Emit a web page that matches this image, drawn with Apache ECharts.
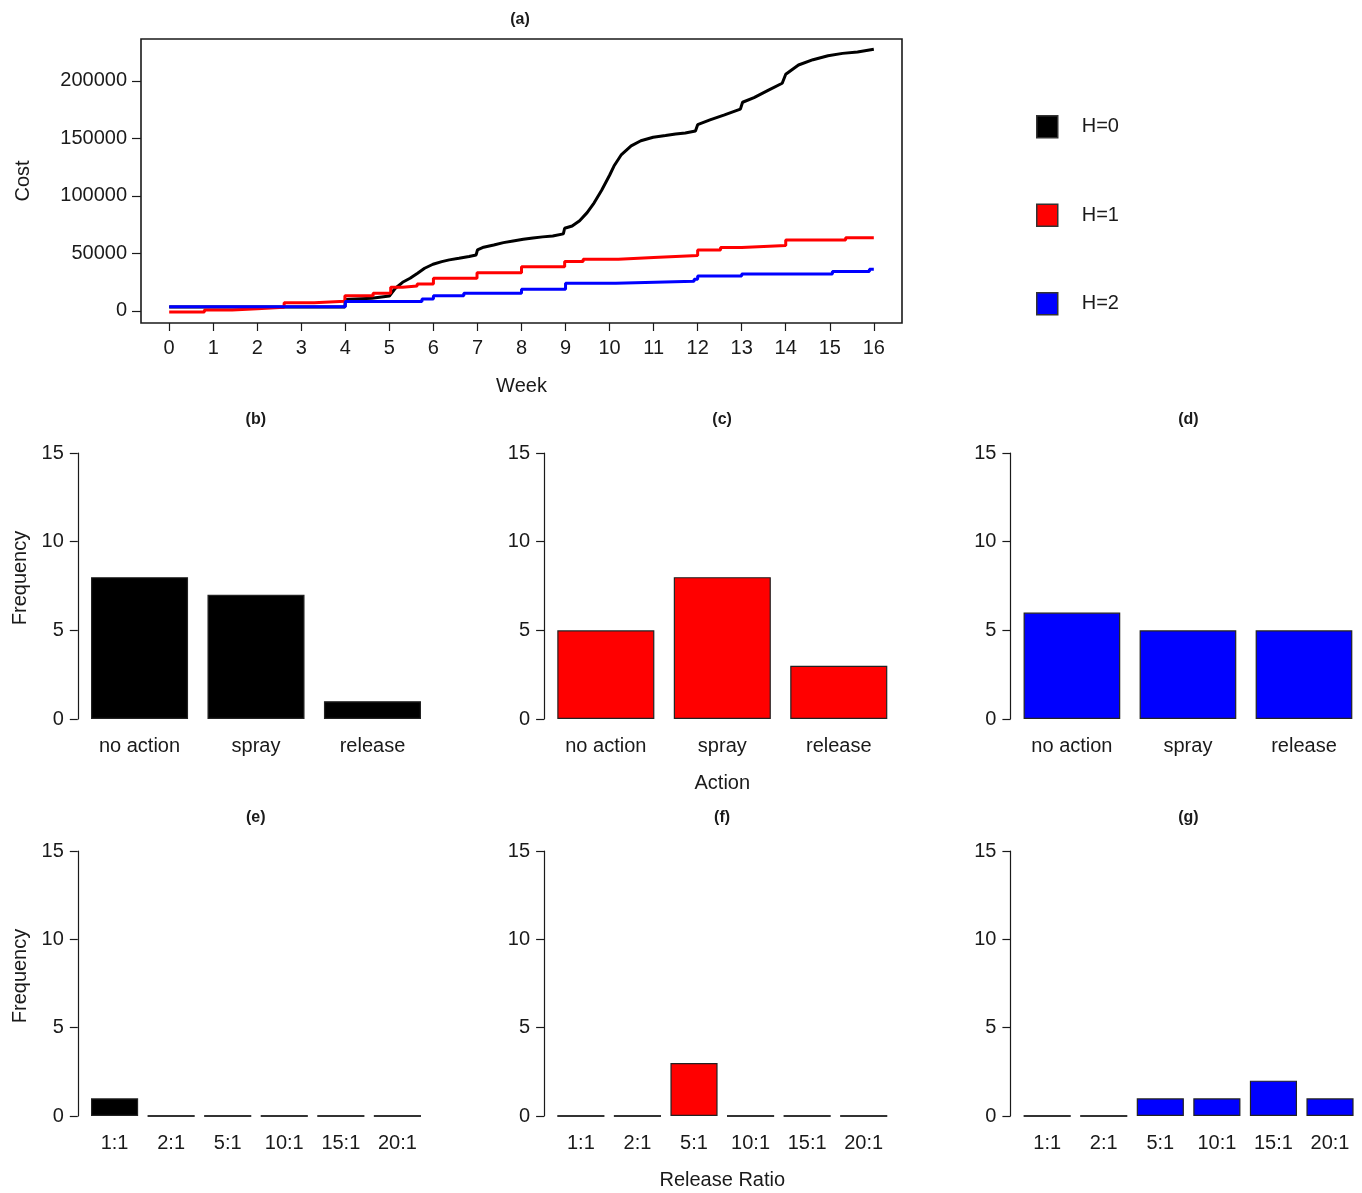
<!DOCTYPE html>
<html>
<head>
<meta charset="utf-8">
<script src="https://cdn.jsdelivr.net/npm/echarts@6/dist/echarts.min.js"></script>
<style>
  html, body { margin: 0; padding: 0; background: #fff; }
  #main { width: 1362px; height: 1193px; }
</style>
</head>
<body>
<div id="main"></div>
<script>
// cumulative cost per week
const weeksH0 = [0, 3.99, 4.0, 4.6, 5.0, 5.13, 5.30, 5.47, 5.64, 5.80, 5.99, 6.19, 6.36, 6.58, 6.81, 6.97, 7.0, 7.14, 7.37, 7.59, 7.81, 8.04, 8.26, 8.48, 8.71, 8.95, 8.98, 9.15, 9.32, 9.49, 9.65, 9.82, 10.0, 10.10, 10.27, 10.49, 10.71, 10.99, 11.27, 11.50, 11.72, 11.95, 12.0, 12.28, 12.61, 12.97, 13.02, 13.28, 13.62, 13.92, 14.0, 14.29, 14.62, 14.96, 15.29, 15.63, 16.0];
const costH0 = [3400, 3400, 10000, 11000, 13000, 19500, 24900, 28400, 32800, 37100, 40600, 42900, 44400, 45800, 47300, 48700, 53100, 55400, 57400, 59400, 60900, 62300, 63500, 64400, 65200, 67000, 71900, 73900, 78500, 85500, 94000, 105000, 118000, 126000, 136000, 143500, 148000, 151000, 152500, 153800, 154800, 156500, 162000, 166100, 170500, 175500, 181500, 185500, 192200, 198000, 205800, 213900, 218500, 221900, 224000, 225200, 227600];

const weeksH1 = [0, 0.8, 1.43, 2.0, 2.61, 3.29, 3.99, 4.63, 5.03, 5.3, 5.63, 6.0, 6.99, 8.0, 8.98, 9.4, 10.2, 11.0, 12.0, 12.52, 13.0, 14.0, 15.36, 16.0];
const costH1 = [-1000, 900, 2000, 3300, 7200, 8400, 13300, 15400, 20600, 21700, 23500, 28400, 33300, 38500, 42900, 45000, 46400, 48100, 53000, 55100, 56800, 61700, 63700, 63700];

const weeksH2 = [0, 4.0, 5.74, 6.0, 6.69, 8.0, 9.0, 10.14, 11.92, 12.0, 13.0, 15.06, 15.9, 16.0];
const costH2 = [3600, 8100, 10400, 13300, 15400, 18900, 24100, 25800, 27600, 30400, 32200, 34200, 36300, 36300];

const weekTicks = [0, 1, 2, 3, 4, 5, 6, 7, 8, 9, 10, 11, 12, 13, 14, 15, 16];
const costTicks = [0, 50000, 100000, 150000, 200000];

const groups = ['H=0', 'H=1', 'H=2'];
const colors = ['#000000', '#ff0000', '#0000ff'];

const actions = ['no action', 'spray', 'release'];
const actionFreq = [
  [8, 7, 1],
  [5, 8, 3],
  [6, 5, 5]
];

const ratios = ['1:1', '2:1', '5:1', '10:1', '15:1', '20:1'];
const ratioFreq = [
  [1, 0, 0, 0, 0, 0],
  [0, 0, 3, 0, 0, 0],
  [0, 0, 1, 1, 2, 1]
];

const panelTitles = ['(a)', '(b)', '(c)', '(d)', '(e)', '(f)', '(g)'];

const FONT = 'Liberation Sans, Arial, sans-serif';
const INK = '#1a1a1a';

const chart = echarts.init(document.getElementById('main'), null, { renderer: 'canvas' });

const grids = [];
const xAxes = [];
const yAxes = [];
const series = [];
const titles = [];
const graphics = [];

function titleStyle() {
  return { fontSize: 16, fontWeight: 'bold', fontFamily: FONT, color: INK };
}

// panel (a)
grids.push({ left: 141, top: 39, width: 761, height: 284, show: true, borderColor: INK, borderWidth: 1.6, backgroundColor: 'transparent' });
xAxes.push({
  gridIndex: 0, type: 'value', min: -0.64, max: 16.64,
  axisLine: { show: false, onZero: false },
  axisTick: { show: true, length: 8, lineStyle: { color: INK, width: 1.2 }, customValues: weekTicks },
  axisLabel: { color: INK, fontSize: 20, fontFamily: FONT, margin: 15, customValues: weekTicks },
  splitLine: { show: false },
  name: 'Week', nameLocation: 'middle', nameGap: 53,
  nameTextStyle: { color: INK, fontSize: 20, fontFamily: FONT }
});
yAxes.push({
  gridIndex: 0, type: 'value', min: -10500, max: 236500,
  axisLine: { show: false, onZero: false },
  axisTick: { show: true, length: 9, lineStyle: { color: INK, width: 1.2 }, customValues: costTicks },
  axisLabel: { color: INK, fontSize: 20, fontFamily: FONT, margin: 14, customValues: costTicks,
    formatter: v => String(v) },
  splitLine: { show: false },
  name: 'Cost', nameLocation: 'middle', nameGap: 108, nameRotate: 90,
  nameTextStyle: { color: INK, fontSize: 20, fontFamily: FONT }
});

const lineWeeks = [weeksH0, weeksH1, weeksH2];
const lineCosts = [costH0, costH1, costH2];
groups.forEach((g, i) => {
  series.push({
    name: g, type: 'line', xAxisIndex: 0, yAxisIndex: 0,
    step: i === 0 ? false : 'end', showSymbol: false, animation: false,
    data: lineWeeks[i].map((w, k) => [w, lineCosts[i][k]]),
    lineStyle: { color: colors[i], width: 3 },
    itemStyle: { color: colors[i] }
  });
});

titles.push({ text: panelTitles[0], left: 520, top: 12, padding: 0, textAlign: 'center', textStyle: titleStyle() });

// bar panels (b)-(g)
const COL = 466.3;
function addBarPanel(row, col, cats, vals, color, title, xName) {
  const idx = grids.length;
  const n = cats.length;
  const unit = n === 3 ? 97.06 : 47.14;
  const pad = n === 3 ? 0.136 : 0.28;
  const plotLeft = 77.8 + col * COL;
  const gridLeft = plotLeft + (pad - 0.1) * unit;
  const top = row === 0 ? 453 : 851;
  const height = row === 0 ? 266 : 265;
  grids.push({ left: gridLeft, top: top, width: n * 1.2 * unit, height: height });
  xAxes.push({
    gridIndex: idx, type: 'category', data: cats,
    axisLine: { show: false }, axisTick: { show: false },
    axisLabel: { color: INK, fontSize: 20, fontFamily: FONT, margin: 17, interval: 0 },
    name: xName || '', nameLocation: 'middle', nameGap: 54,
    nameTextStyle: { color: INK, fontSize: 20, fontFamily: FONT }
  });
  yAxes.push({
    gridIndex: idx, type: 'value', min: 0, max: 15, interval: 5,
    offset: gridLeft - plotLeft,
    axisLine: { show: true, lineStyle: { color: INK, width: 1.2 } },
    axisTick: { show: true, length: 8, lineStyle: { color: INK, width: 1.2 } },
    axisLabel: { color: INK, fontSize: 20, fontFamily: FONT, margin: 14 },
    splitLine: { show: false }
  });
  series.push({
    type: 'bar', xAxisIndex: idx, yAxisIndex: idx, barWidth: '83.33%', animation: false,
    data: vals.map(v => v === 0
      ? { value: v, itemStyle: { borderColor: '#333', borderWidth: 2 } }
      : { value: v }),
    itemStyle: { color: color, borderColor: '#222', borderWidth: 1.2 }
  });
  titles.push({ text: title, left: plotLeft + 178, top: row === 0 ? 412 : 810, padding: 0,
    textAlign: 'center', textStyle: titleStyle() });
  if (col === 0) {
    graphics.push({
      type: 'text', x: 20, y: row === 0 ? 578 : 976, rotation: Math.PI / 2,
      style: { text: 'Frequency', fontSize: 20, fontFamily: FONT, fill: INK, align: 'center', verticalAlign: 'middle' }
    });
  }
}

for (let c = 0; c < 3; c++) {
  addBarPanel(0, c, actions, actionFreq[c], colors[c], panelTitles[1 + c], c === 1 ? 'Action' : '');
}
for (let c = 0; c < 3; c++) {
  addBarPanel(1, c, ratios, ratioFreq[c], colors[c], panelTitles[4 + c], c === 1 ? 'Release Ratio' : '');
}

const option = {
  backgroundColor: '#ffffff',
  animation: false,
  textStyle: { fontFamily: FONT },
  title: titles,
  legend: {
    orient: 'vertical', left: 1036, top: 115, padding: 0,
    icon: 'rect', itemWidth: 21, itemHeight: 22, itemGap: 65,
    textStyle: { fontSize: 20, fontFamily: FONT, color: INK, padding: [0, 0, 0, 19] },
    data: groups.map((g, i) => ({ name: g, itemStyle: { color: colors[i], borderColor: '#333', borderWidth: 1.5 } }))
  },
  grid: grids,
  xAxis: xAxes,
  yAxis: yAxes,
  series: series,
  graphic: graphics
};

chart.setOption(option);
</script>
</body>
</html>
